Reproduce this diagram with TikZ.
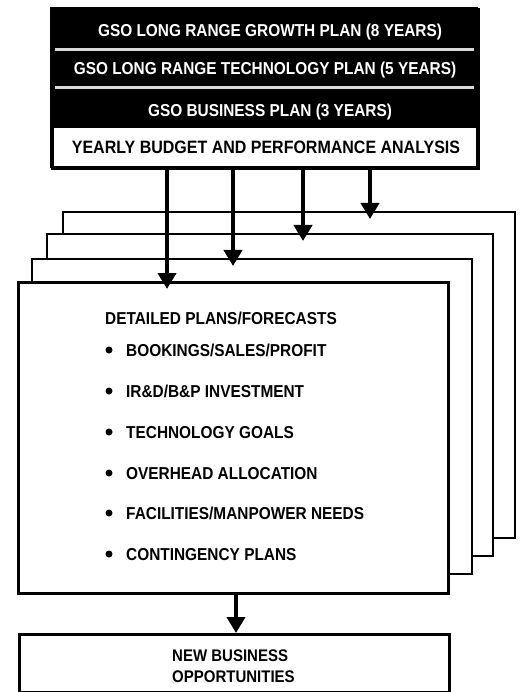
\documentclass[tikz,border=0pt]{standalone}
\usepackage{fontspec}
\setmainfont{Liberation Sans}
\usetikzlibrary{arrows.meta}
\newcommand\tallt[1]{\scalebox{1}[1.12]{#1}}
\begin{document}
\begin{tikzpicture}[x=1pt,y=-1pt,
  boxline/.style={draw=black,line width=2.6pt,fill=white},
  band/.style={fill=black},
  wtxt/.style={text=white,font=\bfseries\fontsize{15.4}{18}\selectfont,inner sep=0pt,anchor=base},
  btxt/.style={text=black,font=\bfseries\fontsize{15.4}{18}\selectfont,inner sep=0pt},
  arr/.style={line width=4pt,-{Triangle[width=18pt,length=16pt]}},
  bul/.style={circle,fill=black,inner sep=0pt,minimum size=7pt}]
\useasboundingbox (0,0) rectangle (523,692);
% stacked sheets, back to front
\draw[boxline] (63,212) rectangle (515,538);
\draw[boxline] (47,234) rectangle (493,556);
\draw[boxline] (32,259) rectangle (472,574);
\node[boxline,anchor=north west,minimum width=430pt,minimum height=311pt,inner sep=0pt] (front) at (17,281) {};
% top box
\node[draw=black,line width=2.6pt,fill=white,anchor=north west,minimum width=426pt,minimum height=159pt,inner sep=0pt] (top) at (51,8) {};
\fill[band] (51,8) rectangle (477,128);
\fill[white!85!black] (55,48.5) rectangle (474,51);
\fill[white!85!black] (55,86.5) rectangle (474,89);
\draw[line width=2.6pt] (51,8) rectangle (477,167);
\node[wtxt] (t1) at (270,36.5) {\tallt{GSO LONG RANGE GROWTH PLAN (8 YEARS)}};
\node[wtxt] (t2) at (265,75) {\tallt{GSO LONG RANGE TECHNOLOGY PLAN (5 YEARS)}};
\node[wtxt] (t3) at (270,117) {\tallt{GSO BUSINESS PLAN (3 YEARS)}};
\node[btxt,anchor=base] (t4) at (266,154) {\tallt{\fontsize{16}{18}\selectfont YEARLY BUDGET AND PERFORMANCE ANALYSIS}};
% arrows from top box to sheets
\coordinate (a1) at (167,289);
\coordinate (a2) at (233,266);
\coordinate (a3) at (303,241);
\coordinate (a4) at (370,219);
\foreach \c in {a1,a2,a3,a4}{\draw[arr] (top.south -| \c) -- (\c);}
% list
\node[btxt,anchor=base west] (h) at (105,324.5) {\tallt{DETAILED PLANS/FORECASTS}};
\node[bul] (b1) at (109,350) {};
\node[btxt,anchor=base west] (l1) at (126,356.5) {\tallt{BOOKINGS/SALES/PROFIT}};
\node[bul] (b2) at (109,391) {};
\node[btxt,anchor=base west] (l2) at (126,397.5) {\tallt{IR\&D/B\&P INVESTMENT}};
\node[bul] (b3) at (109,432) {};
\node[btxt,anchor=base west] (l3) at (126,438.5) {\tallt{TECHNOLOGY GOALS}};
\node[bul] (b4) at (109,473) {};
\node[btxt,anchor=base west] (l4) at (126,479.5) {\tallt{OVERHEAD ALLOCATION}};
\node[bul] (b5) at (109,513) {};
\node[btxt,anchor=base west] (l5) at (126,519.5) {\tallt{FACILITIES/MANPOWER NEEDS}};
\node[bul] (b6) at (109,554) {};
\node[btxt,anchor=base west] (l6) at (126,560.5) {\tallt{CONTINGENCY PLANS}};
% bottom box
\node[boxline,anchor=north west,minimum width=430pt,minimum height=58pt,inner sep=0pt] (nb) at (18,633) {};
\node[btxt,anchor=base west,font=\bfseries\fontsize{15}{18}\selectfont] (n1) at (172,661) {\tallt{NEW BUSINESS}};
\node[btxt,anchor=base west,font=\bfseries\fontsize{15}{18}\selectfont] (n2) at (172,682) {\tallt{OPPORTUNITIES}};
\draw[arr] (front.south -| 236,0) -- (nb.north -| 236,0);
\end{tikzpicture}
\end{document}
